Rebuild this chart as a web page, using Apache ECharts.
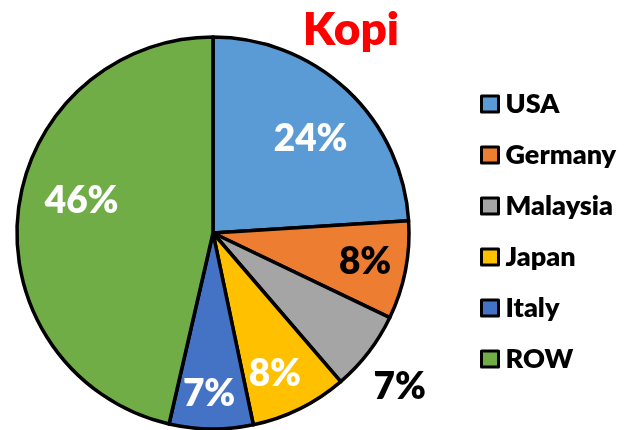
<!DOCTYPE html>
<html>
<head>
<meta charset="utf-8">
<script src="https://cdn.jsdelivr.net/npm/echarts@6/dist/echarts.min.js"></script>
<style>
  html, body { margin: 0; padding: 0; background: #fff; }
  #chart { width: 626px; height: 430px; }
</style>
</head>
<body>
<div id="chart"></div>
<script>
// 各国份额（%）
const countries = ["USA", "Germany", "Malaysia", "Japan", "Italy", "ROW"];
const shares = [24.0, 8.1, 6.6, 8.0, 6.9, 46.4];
const colors = ["#5B9BD5", "#ED7D31", "#A5A5A5", "#FFC000", "#4472C4", "#70AD47"];
const labelColors = ["#fff", "#000", "#000", "#fff", "#fff", "#fff"];
// label placement: distance from centre (share of radius) and angle (deg, clockwise from 3 o'clock)
const labelRadius = [0.69, 0.79, 1.235, 0.785, 0.82, 0.69];
const labelAngle = [-43.8, 10.8, 39.5, 66.3, 91.4, 193.7];

const FONT = "Lato";
const WEIGHT = 800;
const cx = 213, cy = 233, R = 196;

const chart = echarts.init(document.getElementById("chart"), null, { renderer: "canvas" });

chart.setOption({
  animation: false,
  backgroundColor: "#fff",
  title: {
    text: "Kopi",
    left: 346,
    top: 2,
    textAlign: "center",
    textStyle: { color: "#FF0000", fontFamily: FONT, fontWeight: WEIGHT, fontSize: 46 },
  },
  legend: {
    orient: "vertical",
    left: 475,
    top: 84,
    itemWidth: 17,
    itemHeight: 16,
    itemGap: 21,
    icon: "rect",
    itemStyle: { borderColor: "#000", borderWidth: 3 },
    textStyle: { color: "#000", fontFamily: FONT, fontWeight: WEIGHT, fontSize: 27, lineHeight: 30, padding: [0, 0, 0, 2] },
    data: countries,
  },
  series: [
    {
      type: "pie",
      center: [cx, cy],
      radius: R,
      startAngle: 90,
      clockwise: true,
      itemStyle: { borderColor: "#000", borderWidth: 3.5 },
      label: {
        show: true,
        position: "inside",
        fontFamily: FONT,
        fontWeight: WEIGHT,
        fontSize: 37,
        formatter: (p) => Math.round(p.value) + "%",
      },
      labelLine: { show: false },
      labelLayout: (params) => {
        const i = params.dataIndex;
        const a = labelAngle[i] * Math.PI / 180;
        const d = labelRadius[i] * R;
        return {
          x: cx + d * Math.cos(a),
          y: cy + d * Math.sin(a),
          align: "center",
          verticalAlign: "middle",
        };
      },
      data: countries.map((name, i) => ({
        name,
        value: shares[i],
        itemStyle: { color: colors[i] },
        label: { color: labelColors[i] },
      })),
    },
  ],
});
</script>
</body>
</html>
